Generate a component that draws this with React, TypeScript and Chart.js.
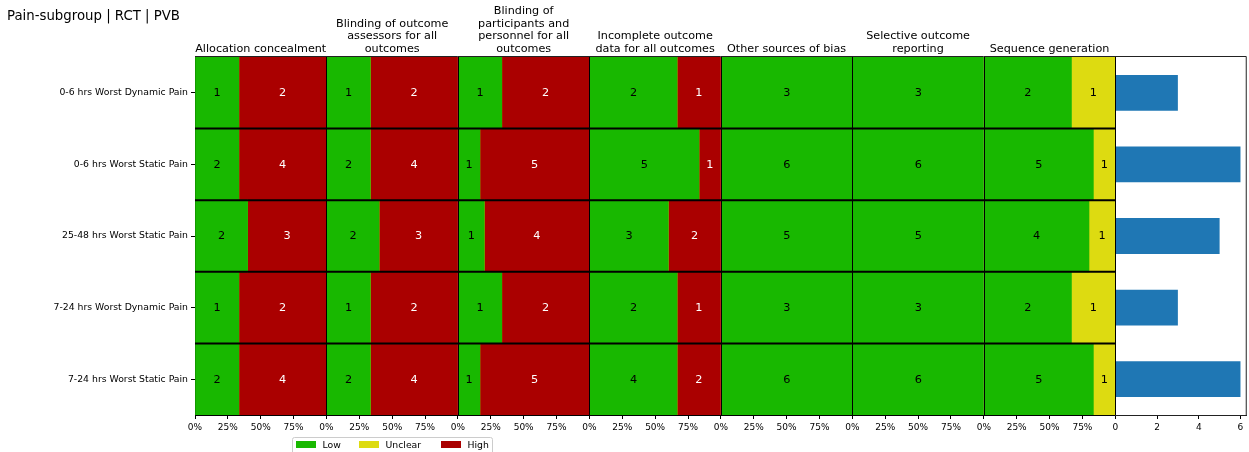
import { useEffect, useRef } from "react";
import { Chart, registerables } from "chart.js";

Chart.register(...registerables);

// ---- data ----
const chartTitle = "Pain-subgroup | RCT | PVB";

const outcomes = [
  "0-6 hrs Worst Dynamic Pain",
  "0-6 hrs Worst Static Pain",
  "25-48 hrs Worst Static Pain",
  "7-24 hrs Worst Dynamic Pain",
  "7-24 hrs Worst Static Pain",
];

// Risk-of-bias domains (title lines as shown above each panel)
const domainTitles = [
  ["Allocation concealment"],
  ["Blinding of outcome", "assessors for all", "outcomes"],
  ["Blinding of", "participants and", "personnel for all", "outcomes"],
  ["Incomplete outcome", "data for all outcomes"],
  ["Other sources of bias"],
  ["Selective outcome", "reporting"],
  ["Sequence generation"],
];

const riskLevels = ["Low", "Unclear", "High"];
const riskColors = ["#18b800", "#dddb11", "#aa0000"];
const riskTextColors = ["#000000", "#000000", "#ffffff"];

// study counts per domain (rows) and outcome (columns)
const lowCounts = [
  [1, 2, 2, 1, 2],
  [1, 2, 2, 1, 2],
  [1, 1, 1, 1, 1],
  [2, 5, 3, 2, 4],
  [3, 6, 5, 3, 6],
  [3, 6, 5, 3, 6],
  [2, 5, 4, 2, 5],
];
const unclearCounts = [
  [0, 0, 0, 0, 0],
  [0, 0, 0, 0, 0],
  [0, 0, 0, 0, 0],
  [0, 0, 0, 0, 0],
  [0, 0, 0, 0, 0],
  [0, 0, 0, 0, 0],
  [1, 1, 1, 1, 1],
];
const highCounts = [
  [2, 4, 3, 2, 4],
  [2, 4, 3, 2, 4],
  [2, 5, 4, 2, 5],
  [1, 1, 2, 1, 2],
  [0, 0, 0, 0, 0],
  [0, 0, 0, 0, 0],
  [0, 0, 0, 0, 0],
];

// number of studies per outcome
const studyCounts = [3, 6, 5, 3, 6];

const percentTicks = [0, 25, 50, 75];
const studyTicks = [0, 2, 4, 6];
const studyAxisMax = 6.3;

const FONT = "'DejaVu Sans', 'Liberation Sans', sans-serif";

export default function App() {
  const canvasRef = useRef<HTMLCanvasElement>(null);

  useEffect(() => {
    const canvas = canvasRef.current;
    if (!canvas) return;

    const countsByLevel = [lowCounts, unclearCounts, highCounts];
    const datasets: any[] = [];

    domainTitles.forEach((_, d) => {
      const totals = outcomes.map((__, o) =>
        countsByLevel.reduce((s, lv) => s + lv[d][o], 0)
      );
      countsByLevel.forEach((lv, k) => {
        datasets.push({
          label: riskLevels[k],
          data: lv[d].map((c, o) => (c / totals[o]) * 100),
          counts: lv[d],
          textColor: riskTextColors[k],
          xAxisID: `d${d}`,
          backgroundColor: riskColors[k],
          borderWidth: 0,
          barPercentage: 1,
          categoryPercentage: 1,
        });
      });
    });

    datasets.push({
      label: "Studies",
      data: studyCounts,
      xAxisID: "n",
      backgroundColor: "#1f77b4",
      borderWidth: 0,
      barPercentage: 0.5,
      categoryPercentage: 1,
    });

    const tickFont = { family: FONT, size: 9 };

    const scales: any = {
      y: {
        type: "category",
        labels: outcomes,
        stacked: true,
        offset: true,
        afterFit: (s: any) => {
          s.width = 195;
        },
        grid: {
          display: true,
          drawOnChartArea: false,
          drawTicks: true,
          tickLength: 4,
          color: "#000",
          offset: false,
        },
        border: { display: true, color: "#000", width: 1 },
        ticks: { color: "#000", font: { family: FONT, size: 9.3 }, padding: 3 },
      },
    };

    domainTitles.forEach((_, d) => {
      scales[`d${d}`] = {
        type: "linear",
        axis: "x",
        position: "bottom",
        stack: "panels",
        stackWeight: 1,
        stacked: true,
        min: 0,
        max: 100,
        afterBuildTicks: (s: any) => {
          s.ticks = percentTicks.map((v) => ({ value: v }));
        },
        afterFit: (s: any) => {
          s.height = 37;
        },
        ticks: {
          color: "#000",
          font: tickFont,
          padding: 3,
          maxRotation: 0,
          autoSkip: false,
          callback: (v: any) => `${v}%`,
        },
        grid: { display: true, drawOnChartArea: false, tickLength: 4, color: "#000" },
        border: { display: true, color: "#000", width: 1 },
      };
    });

    scales.n = {
      type: "linear",
      axis: "x",
      position: "bottom",
      stack: "panels",
      stackWeight: 1,
      min: 0,
      max: studyAxisMax,
      afterBuildTicks: (s: any) => {
        s.ticks = studyTicks.map((v) => ({ value: v }));
      },
      afterFit: (s: any) => {
        s.height = 37;
      },
      ticks: {
        color: "#000",
        font: tickFont,
        padding: 3,
        maxRotation: 0,
        autoSkip: false,
        callback: (v: any) => String(v),
      },
      grid: { display: true, drawOnChartArea: false, tickLength: 4, color: "#000" },
      border: { display: true, color: "#222", width: 1 },
    };

    const decorations = {
      id: "robDecorations",
      beforeDraw(chart: any) {
        const ctx = chart.ctx;
        ctx.save();
        ctx.fillStyle = "#fff";
        ctx.fillRect(0, 0, chart.width, chart.height);
        ctx.restore();
      },
      afterDatasetsDraw(chart: any) {
        const ctx = chart.ctx;
        const area = chart.chartArea;
        const yScale = chart.scales.y;
        const lastDomain = chart.scales[`d${domainTitles.length - 1}`];

        ctx.save();
        // counts inside each segment
        ctx.font = `11.3px ${FONT}`;
        ctx.textAlign = "center";
        ctx.textBaseline = "middle";
        chart.data.datasets.forEach((ds: any, i: number) => {
          if (!ds.counts) return;
          const meta = chart.getDatasetMeta(i);
          meta.data.forEach((el: any, j: number) => {
            const c = ds.counts[j];
            if (!c) return;
            ctx.fillStyle = ds.textColor;
            ctx.fillText(String(c), (el.x + el.base) / 2, el.y + 0.5);
          });
        });

        // separators between outcome rows
        ctx.strokeStyle = "#000";
        ctx.lineWidth = 2;
        for (let i = 0; i < outcomes.length - 1; i++) {
          const yb = (yScale.getPixelForValue(i) + yScale.getPixelForValue(i + 1)) / 2;
          ctx.beginPath();
          ctx.moveTo(area.left, yb);
          ctx.lineTo(lastDomain.right, yb);
          ctx.stroke();
        }

        // panel boundaries
        ctx.lineWidth = 1;
        domainTitles.forEach((_, d) => {
          const x = Math.round(chart.scales[`d${d}`].right) + 0.5;
          ctx.beginPath();
          ctx.moveTo(x, area.top);
          ctx.lineTo(x, area.bottom);
          ctx.stroke();
        });

        // top edge and right frame
        ctx.strokeStyle = "#222";
        ctx.beginPath();
        ctx.moveTo(area.left, area.top - 0.5);
        ctx.lineTo(area.right - 0.5, area.top - 0.5);
        ctx.lineTo(area.right - 0.5, area.bottom);
        ctx.stroke();
        ctx.restore();
      },
      afterDraw(chart: any) {
        const ctx = chart.ctx;
        ctx.save();
        ctx.fillStyle = "#000";
        ctx.textBaseline = "alphabetic";

        // figure title
        ctx.font = `13.3px ${FONT}`;
        ctx.textAlign = "left";
        ctx.fillText(chartTitle, 7, 19.5);

        // domain titles, bottom-aligned above their panels
        ctx.font = `11.2px ${FONT}`;
        ctx.textAlign = "center";
        domainTitles.forEach((lines, d) => {
          const s = chart.scales[`d${d}`];
          const cx = (s.left + s.right) / 2;
          const n = lines.length;
          lines.forEach((line, k) => {
            ctx.fillText(line, cx, 51.5 - (n - 1 - k) * 12.4);
          });
        });

        // legend
        const lx = 292.5;
        const ly = 437.5;
        ctx.strokeStyle = "#cccccc";
        ctx.lineWidth = 1;
        ctx.fillStyle = "#ffffff";
        ctx.beginPath();
        ctx.roundRect(lx, ly, 200, 24, 2);
        ctx.fill();
        ctx.stroke();
        const items = [
          { box: 296, text: 322.5 },
          { box: 359, text: 385.5 },
          { box: 441, text: 467.5 },
        ];
        ctx.font = `9.3px ${FONT}`;
        ctx.textAlign = "left";
        items.forEach((it, k) => {
          ctx.fillStyle = riskColors[k];
          ctx.fillRect(it.box, 441, 20, 7);
          ctx.fillStyle = "#000";
          ctx.fillText(riskLevels[k], it.text, 447.5);
        });
        ctx.restore();
      },
    };

    const chart = new Chart(canvas, {
      type: "bar",
      data: { labels: outcomes, datasets },
      options: {
        indexAxis: "y",
        animation: false,
        responsive: false,
        devicePixelRatio: 1,
        layout: { padding: { top: 57, right: 2, bottom: 0, left: 0 } },
        plugins: {
          legend: { display: false },
          title: { display: false },
          tooltip: { enabled: false },
        },
        scales,
      },
      plugins: [decorations],
    } as any);

    return () => {
      chart.destroy();
    };
  }, []);

  return (
    <div style={{ position: "absolute", left: 0, top: 0, width: 1249, height: 452 }}>
      <canvas ref={canvasRef} width={1249} height={452} style={{ display: "block" }} />
    </div>
  );
}
